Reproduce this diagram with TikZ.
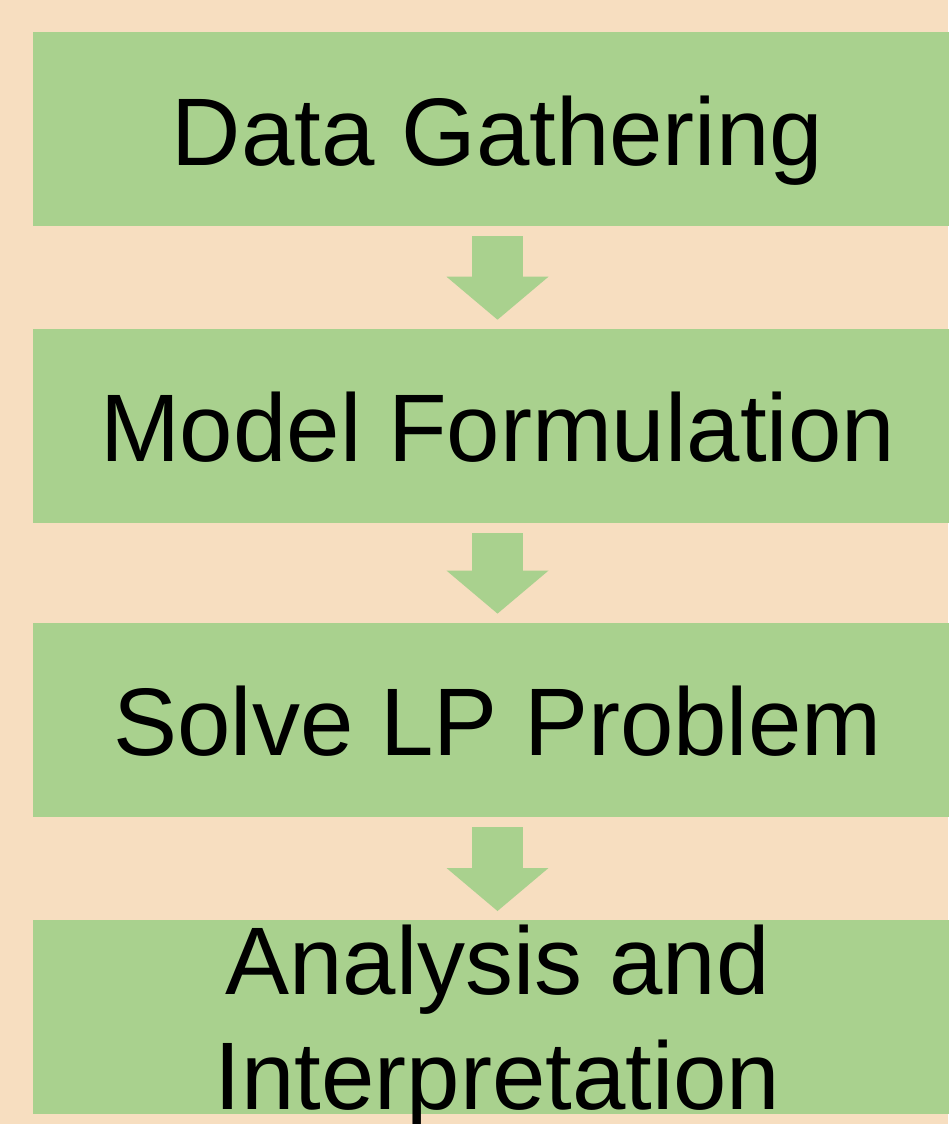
\documentclass[tikz,border=0pt]{standalone}
\usepackage{fontspec}
\setmainfont{Liberation Sans}
\usetikzlibrary{positioning, arrows.meta}
\definecolor{stepGreen}{HTML}{A9D18E}
\definecolor{bgPeach}{HTML}{F7DEC0}

\begin{document}
\begin{tikzpicture}[x=1pt, y=1pt,
    stepbox/.style={rectangle, fill=stepGreen, inner sep=0pt,
        minimum width=929pt, minimum height=194pt,
        font=\fontsize{96pt}{115pt}\selectfont, text height=92pt, text depth=20pt},
    flowarrow/.style={draw=stepGreen, line width=51pt,
        -{Triangle[length=43pt, width=102pt, line width=0pt]},
        shorten <=10pt, shorten >=9pt}]
    % background
    \fill[bgPeach] (0,0) rectangle (948,-1124);
    \useasboundingbox (0,0) rectangle (948,-1124);
    % steps
    \node[stepbox] (gather) at (497.5,-129) {Data Gathering};
    \node[stepbox, below=102.5pt of gather] (model) {Model Formulation};
    \node[stepbox, below=99.5pt of model] (solve) {Solve LP Problem};
    \node[stepbox, below=103pt of solve] (analysis) {};
    \node[font=\fontsize{96pt}{115pt}\selectfont, align=center, inner sep=0pt,
        anchor=north, yshift=92pt] (analysistext) at (analysis.center)
        {Analysis and\\Interpretation};
    % arrows
    \draw[flowarrow] (gather) -- (model);
    \draw[flowarrow] (model) -- (solve);
    \draw[flowarrow] (solve) -- (analysis);
\end{tikzpicture}
\end{document}
